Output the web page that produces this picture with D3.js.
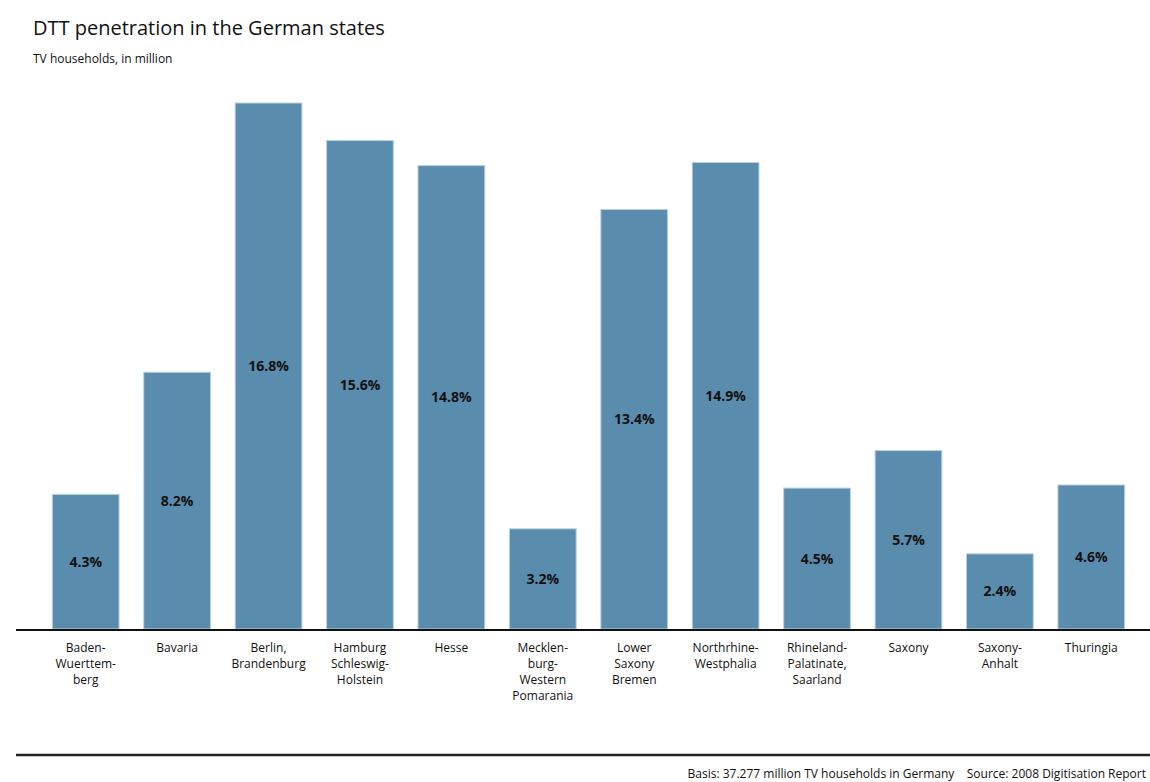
<html>
<head>
<title>DTT penetration</title>
<script src="https://cdnjs.cloudflare.com/ajax/libs/d3/7.8.5/d3.min.js"></script>
<style>
  body { margin: 0; background: #fff; }
  svg text { font-family: "Open Sans", "DejaVu Sans", sans-serif; }
</style>
</head>
<body>
<div id="chart"></div>
<script>
// data
var states = ["Baden-Wuerttemberg", "Bavaria", "Berlin, Brandenburg", "Hamburg Schleswig-Holstein",
  "Hesse", "Mecklenburg-Western Pomarania", "Lower Saxony Bremen", "Northrhine-Westphalia",
  "Rhineland-Palatinate, Saarland", "Saxony", "Saxony-Anhalt", "Thuringia"];
var labelLines = [
  ["Baden-", "Wuerttem-", "berg"],
  ["Bavaria"],
  ["Berlin,", "Brandenburg"],
  ["Hamburg", "Schleswig-", "Holstein"],
  ["Hesse"],
  ["Mecklen-", "burg-", "Western", "Pomarania"],
  ["Lower", "Saxony", "Bremen"],
  ["Northrhine-", "Westphalia"],
  ["Rhineland-", "Palatinate,", "Saarland"],
  ["Saxony"],
  ["Saxony-", "Anhalt"],
  ["Thuringia"]
];
var penetration = [4.3, 8.2, 16.8, 15.6, 14.8, 3.2, 13.4, 14.9, 4.5, 5.7, 2.4, 4.6];

var w = 1150, h = 782;
var baseY = 629;

var svg = d3.select("#chart").append("svg")
  .attr("width", w)
  .attr("height", h);

var x = d3.scaleBand()
  .domain(states)
  .range([40, 1137])
  .paddingInner(0.27)
  .paddingOuter(0.135);

var y = d3.scaleLinear()
  .domain([0, 16.8])
  .range([baseY, 103]);

// title
svg.append("text")
  .attr("x", 33).attr("y", 35)
  .attr("font-size", "20px")
  .attr("fill", "#111")
  .text("DTT penetration in the German states");

svg.append("text")
  .attr("x", 33).attr("y", 63)
  .attr("font-size", "12px")
  .attr("fill", "#111")
  .text("TV households, in million");

// bars
var bars = svg.selectAll("g.bar")
  .data(states)
  .enter()
  .append("g")
  .attr("class", "bar");

bars.append("rect")
  .attr("x", function(d) { return x(d); })
  .attr("y", function(d, i) { return y(penetration[i]); })
  .attr("width", x.bandwidth())
  .attr("height", function(d, i) { return baseY - y(penetration[i]); })
  .attr("fill", "#5a8cad")
  .attr("stroke", "#b9d0df")
  .attr("stroke-width", 1);

bars.append("text")
  .attr("x", function(d) { return x(d) + x.bandwidth() / 2; })
  .attr("y", function(d, i) { return (y(penetration[i]) + baseY) / 2 + 5; })
  .attr("text-anchor", "middle")
  .attr("font-size", "14px")
  .attr("font-weight", "bold")
  .attr("fill", "#111")
  .text(function(d, i) { return penetration[i].toFixed(1) + "%"; });

// baseline
svg.append("line")
  .attr("x1", 16).attr("x2", w)
  .attr("y1", baseY + 1).attr("y2", baseY + 1)
  .attr("stroke", "#111")
  .attr("stroke-width", 2);

// category labels
var cat = svg.selectAll("text.cat")
  .data(states)
  .enter()
  .append("text")
  .attr("class", "cat")
  .attr("text-anchor", "middle")
  .attr("font-size", "12px")
  .attr("fill", "#111");

cat.each(function(d, i) {
  var t = d3.select(this);
  labelLines[i].forEach(function(line, k) {
    t.append("tspan")
      .attr("x", x(d) + x.bandwidth() / 2)
      .attr("y", 652 + k * 16)
      .text(line);
  });
});

// bottom rule and footer
svg.append("line")
  .attr("x1", 16).attr("x2", w)
  .attr("y1", 755).attr("y2", 755)
  .attr("stroke", "#222")
  .attr("stroke-width", 2.5);

svg.append("text")
  .attr("x", 1146).attr("y", 778)
  .attr("text-anchor", "end")
  .attr("font-size", "12px")
  .attr("fill", "#111")
  .attr("xml:space", "preserve")
  .text("Basis: 37.277 million TV households in Germany    Source: 2008 Digitisation Report");
</script>
</body>
</html>
